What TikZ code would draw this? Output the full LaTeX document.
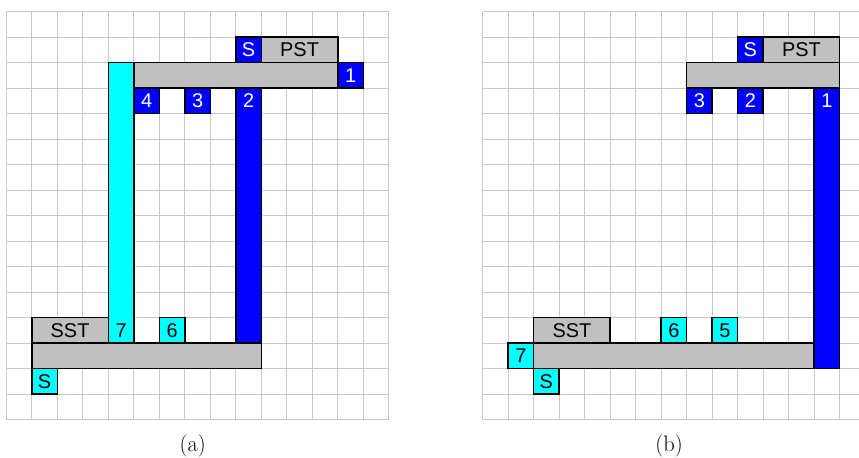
\documentclass[tikz,border=0pt]{standalone}
\usepackage{fontspec}
\newfontfamily\labfont{Liberation Sans}
\definecolor{pblue}{RGB}{0,0,255}
\definecolor{scyan}{RGB}{0,255,255}
\definecolor{bargrey}{RGB}{192,192,192}
\definecolor{gridgrey}{RGB}{200,200,200}
\begin{document}
\begin{tikzpicture}[x=0.9cm,y=-0.9cm,
  cell/.style={draw=black, line width=1.5pt, inner sep=0pt, outer sep=0pt,
    anchor=north west, font=\labfont\fontsize{20}{23}\selectfont,
    minimum width=0.9cm, minimum height=0.9cm},
  bluebox/.style={cell, fill=pblue, text=white},
  cyanbox/.style={cell, fill=scyan, text=black},
  greybox/.style={cell, fill=bargrey, text=black},
  bw/.style={minimum width=#1*0.9cm},
  bh/.style={minimum height=#1*0.9cm},
  lbl/.style={inner sep=0pt, font=\labfont\fontsize{20}{23}\selectfont},
  gridline/.style={draw=gridgrey, line width=0.8pt},
  capt/.style={font=\fontsize{22.5}{26}\selectfont, anchor=base}]
\useasboundingbox (-0.248,-0.459) rectangle (33.44,17.50);
\clip (-0.248,-0.459) rectangle (33.44,17.50);
% ---------------- (a)
\foreach \i in {0,...,15} \draw[gridline] (\i,0) -- (\i,16);
\foreach \j in {0,...,16} \draw[gridline] (0,\j) -- (15,\j);
\node[bluebox] (aS) at (9,1) {S};
\node[greybox, bw=3] (aPST) at (10,1) {PST};
\node[greybox, bw=8] (atop) at (5,2) {};
\node[bluebox] (a1) at (13,2) {1};
\node[cyanbox, bh=11] (abar7) at (4,2) {};
\node[lbl] (a7) at (4.5,12.5) {7};
\node[bluebox] (a4) at (5,3) {4};
\node[bluebox] (a3) at (7,3) {3};
\node[bluebox, bh=10] (abar2) at (9,3) {};
\node[lbl, text=white] (a2) at (9.5,3.5) {2};
\node[greybox, bw=3] (aSST) at (1,12) {SST};
\node[cyanbox] (a6) at (6,12) {6};
\node[greybox, bw=9] (abot) at (1,13) {};
\node[cyanbox] (aS2) at (1,14) {S};
\node[capt] (capa) at (7.31,17.25) {(a)};
% ---------------- (b)
\begin{scope}[shift={(18.68,0)}]
\foreach \i in {0,...,15} \draw[gridline] (\i,0) -- (\i,16);
\foreach \j in {0,...,16} \draw[gridline] (0,\j) -- (15,\j);
\node[bluebox] (bS) at (10,1) {S};
\node[greybox, bw=3] (bPST) at (11,1) {PST};
\node[greybox, bw=6] (btop) at (8,2) {};
\node[bluebox] (b3) at (8,3) {3};
\node[bluebox] (b2) at (10,3) {2};
\node[bluebox, bh=11] (bbar1) at (13,3) {};
\node[lbl, text=white] (b1) at (13.5,3.5) {1};
\node[greybox, bw=3] (bSST) at (2,12) {SST};
\node[cyanbox] (b6) at (7,12) {6};
\node[cyanbox] (b5) at (9,12) {5};
\node[cyanbox] (b7) at (1,13) {7};
\node[greybox, bw=11] (bbot) at (2,13) {};
\node[cyanbox] (bS2) at (2,14) {S};
\node[capt] (capb) at (7.31,17.25) {(b)};
\end{scope}
\end{tikzpicture}
\end{document}
